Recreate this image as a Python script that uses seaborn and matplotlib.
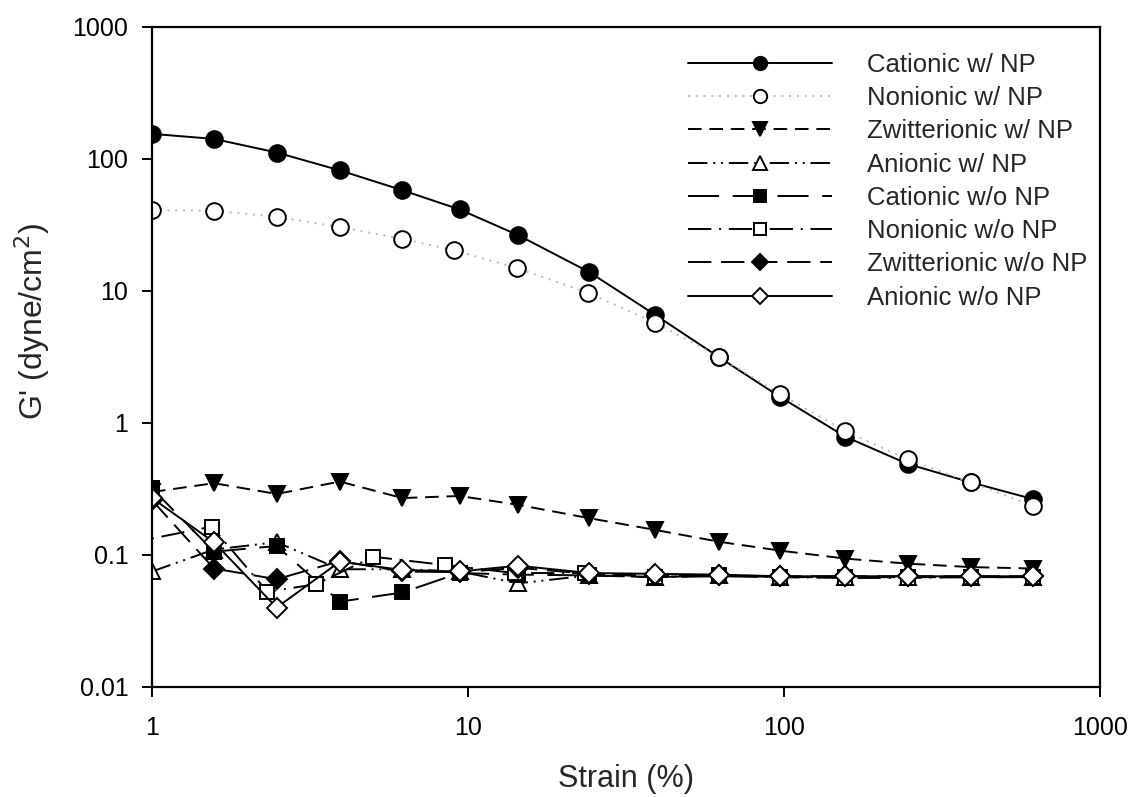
import numpy as np
import pandas as pd
import seaborn as sns
import matplotlib
matplotlib.use("Agg")
import matplotlib.pyplot as plt

# ---- data ----
strain = [1, 1.57, 2.48, 3.93, 6.2, 9.4, 14.4, 24.2, 39.1, 62.3, 97, 156, 246, 390, 615]

cationic_np = [155, 142, 112, 82, 58, 41.5, 26.5, 13.9, 6.6, 3.15, 1.58, 0.79, 0.49, 0.355, 0.265]
nonionic_np_x = [1, 1.57, 2.48, 3.93, 6.2, 9.0, 14.3, 24.0, 39.1, 62.3, 97, 156, 246, 390, 615]
nonionic_np = [41, 40.5, 36.5, 30.5, 24.8, 20.4, 14.9, 9.7, 5.75, 3.18, 1.66, 0.87, 0.53, 0.355, 0.235]
zwitter_np = [0.30, 0.35, 0.29, 0.36, 0.27, 0.28, 0.24, 0.19, 0.155, 0.126, 0.108, 0.094, 0.086, 0.081, 0.079]
anionic_np = [0.075, 0.11, 0.125, 0.078, 0.078, 0.075, 0.061, 0.070, 0.068, 0.070, 0.068, 0.068, 0.068, 0.068, 0.068]

cationic_wo = [0.32, 0.106, 0.117, 0.0443, 0.052, 0.073, 0.071, 0.070, 0.068, 0.069, 0.068, 0.068, 0.068, 0.068, 0.068]
nonionic_wo_x = [0.8, 1.545, 2.32, 3.30, 5.01, 8.45, 14.1, 23.4, 39.1, 62.3, 97, 156, 246, 390, 615]
nonionic_wo = [0.12, 0.164, 0.0527, 0.060, 0.097, 0.084, 0.073, 0.073, 0.068, 0.070, 0.068, 0.067, 0.067, 0.068, 0.068]
zwitter_wo = [0.26, 0.079, 0.0655, 0.090, 0.075, 0.074, 0.080, 0.072, 0.070, 0.070, 0.069, 0.069, 0.069, 0.069, 0.069]
anionic_wo = [0.27, 0.125, 0.040, 0.089, 0.077, 0.075, 0.083, 0.073, 0.072, 0.071, 0.069, 0.069, 0.069, 0.069, 0.069]

labels = ["Cationic w/ NP", "Nonionic w/ NP", "Zwitterionic w/ NP", "Anionic w/ NP",
          "Cationic w/o NP", "Nonionic w/o NP", "Zwitterionic w/o NP", "Anionic w/o NP"]

xticks = [1, 10, 100, 1000]
xtick_labels = ["1", "10", "100", "1000"]
yticks = [0.01, 0.1, 1, 10, 100, 1000]
ytick_labels = ["0.01", "0.1", "1", "10", "100", "1000"]

series = [
    (strain, cationic_np), (nonionic_np_x, nonionic_np), (strain, zwitter_np), (strain, anionic_np),
    (strain, cationic_wo), (nonionic_wo_x, nonionic_wo), (strain, zwitter_wo), (strain, anionic_wo),
]

styles = [
    dict(marker="o", mfc="black", ls="-", color="black", ms=12),
    dict(marker="o", mfc="white", ls=(0, (1, 3)), color="#b8b8b8", ms=12),
    dict(marker="v", mfc="black", ls=(0, (7, 4)), color="black", ms=12),
    dict(marker="^", mfc="white", ls=(0, (10, 3, 1, 3, 1, 3)), color="black", ms=12),
    dict(marker="s", mfc="black", ls=(0, (16, 7)), color="black", ms=10.5),
    dict(marker="s", mfc="white", ls=(0, (12, 4, 1, 4)), color="black", ms=10.5),
    dict(marker="D", mfc="black", ls=(0, (12, 5)), color="black", ms=10.5),
    dict(marker="D", mfc="white", ls="-", color="black", ms=10.5),
]

sns.set_style("ticks")
plt.rcParams["font.family"] = ["Liberation Sans", "DejaVu Sans"]

fig = plt.figure(figsize=(11.29, 7.97), dpi=100)
ax = fig.add_axes([152 / 1129, 1 - 687 / 797, (1100 - 152) / 1129, (687 - 27) / 797])
ax.set_xscale("log")
ax.set_yscale("log")

for (xs, ys), lab, st in zip(series, labels, styles):
    df = pd.DataFrame({"x": xs, "y": ys})
    sns.lineplot(data=df, x="x", y="y", ax=ax, label=lab, estimator=None, sort=False,
                 color=st["color"], linestyle=st["ls"], linewidth=1.4,
                 marker=st["marker"], markersize=st["ms"], markerfacecolor=st["mfc"],
                 markeredgecolor="black", markeredgewidth=1.4)

ax.set_xlim(1, 1000)
ax.set_ylim(0.01, 1000)
ax.set_xticks(xticks)
ax.set_xticklabels(xtick_labels)
ax.set_yticks(yticks)
ax.set_yticklabels(ytick_labels)
ax.minorticks_off()
ax.tick_params(axis="both", which="major", direction="out", length=7, width=1.4,
               labelsize=18, pad=10, color="black", labelcolor="black")
ax.tick_params(axis="x", pad=14)
for sp in ax.spines.values():
    sp.set_visible(True)
    sp.set_linewidth(1.6)
    sp.set_color("black")

ax.set_xlabel("Strain (%)", fontsize=22, labelpad=17)
ax.set_ylabel("G' (dyne/cm$^2$)", fontsize=23)
ax.yaxis.set_label_coords(-0.106, 0.555)

leg = ax.legend(loc="upper right", bbox_to_anchor=(1.011, 0.996), frameon=False,
                fontsize=18.5, handlelength=5.6, handletextpad=1.35, labelspacing=0.36,
                markerscale=0.8)

fig.savefig("out.png", dpi=100)
